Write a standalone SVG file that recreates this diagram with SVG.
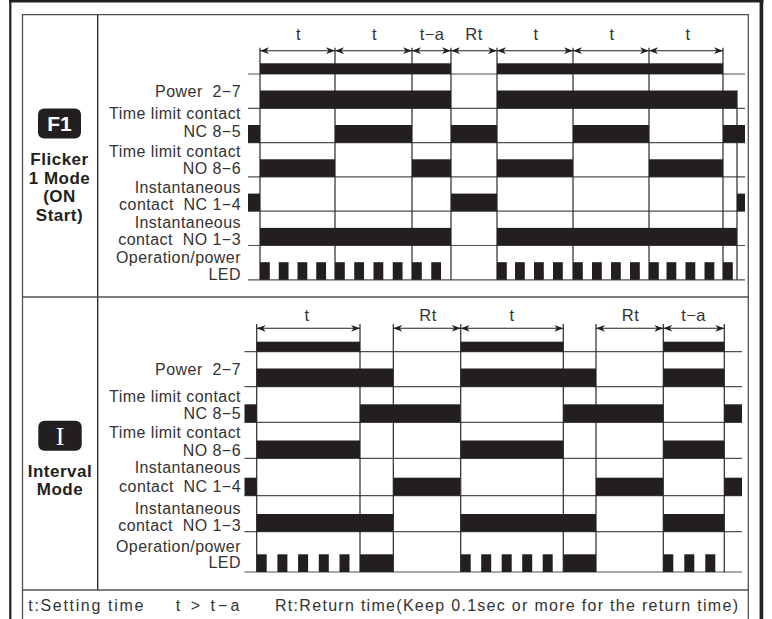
<svg xmlns="http://www.w3.org/2000/svg" width="772" height="619" viewBox="0 0 772 619">
<style>
.lbl{font-family:"Liberation Sans",Arial,sans-serif;font-size:16px;fill:#333;letter-spacing:0.45px;text-anchor:end}
.top{font-family:"Liberation Sans",Arial,sans-serif;font-size:16.5px;fill:#333;text-anchor:middle;letter-spacing:0.4px}
.foot{font-family:"Liberation Sans",Arial,sans-serif;font-size:16px;fill:#333}
.bold{font-family:"Liberation Sans",Arial,sans-serif;font-weight:bold;font-size:17px;fill:#231f20;text-anchor:middle;letter-spacing:0.5px}
.bar{fill:#231f20}
.badge{fill:#231f20}
.base{stroke:#505050;stroke-width:1.2;fill:none}
.tick{stroke:#2a2a2a;stroke-width:1.2;fill:none}
.arr{stroke:#231f20;stroke-width:1.1;fill:none;marker-start:url(#ah);marker-end:url(#ah)}
.frame{stroke:#505050;stroke-width:1.3;fill:none}
.outer{stroke:#231f20;fill:none}
</style>
<defs>
<marker id="ah" viewBox="0 -4 9 8" refX="9" refY="0" markerWidth="9" markerHeight="8" markerUnits="userSpaceOnUse" orient="auto-start-reverse">
<path d="M0,-3.4 L9,0 L0,3.4 L2.6,0 Z" fill="#231f20"/>
</marker>
</defs>
<rect width="772" height="619" fill="#fff"/>

<g id="frame">
<line class="outer" x1="9" y1="1.3" x2="763.5" y2="1.3" stroke-width="2.6"/>
<line class="outer" x1="10.3" y1="0" x2="10.3" y2="619" stroke-width="2.2"/>
<line class="outer" x1="761.4" y1="0" x2="761.4" y2="619" stroke-width="3.6"/>
<path class="frame" d="M22.5,619 V14.7 H748.3 V619"/>
<line class="outer" x1="97.7" y1="14.7" x2="97.7" y2="590" stroke-width="1.3"/>
<line class="frame" x1="22.5" y1="297" x2="748.3" y2="297"/>
<line class="frame" x1="22.5" y1="590" x2="748.3" y2="590"/>
</g>

<g id="f1-mode">
<rect class="badge" x="38" y="108.5" width="43" height="30" rx="6"/>
<text x="59.5" y="131" font-family="Liberation Sans, Arial, sans-serif" font-weight="bold" font-size="21" fill="#fff" text-anchor="middle">F1</text>
<text class="bold" x="59.5" y="165">Flicker</text>
<text class="bold" x="59.5" y="184.3">1 Mode</text>
<text class="bold" x="59.5" y="202">(ON</text>
<text class="bold" x="59.5" y="220.5">Start)</text>
</g>

<g id="f1-labels">
<text class="lbl" x="241" y="96.5">Power&#160; 2−7</text>
<text class="lbl" x="241" y="119">Time limit contact</text>
<text class="lbl" x="241" y="136.7">NC 8−5</text>
<text class="lbl" x="241" y="157">Time limit contact</text>
<text class="lbl" x="241" y="174">NO 8−6</text>
<text class="lbl" x="241" y="193">Instantaneous</text>
<text class="lbl" x="241" y="210">contact&#160; NC 1−4</text>
<text class="lbl" x="241" y="228">Instantaneous</text>
<text class="lbl" x="241" y="245">contact&#160; NO 1−3</text>
<text class="lbl" x="241" y="263">Operation/power</text>
<text class="lbl" x="241" y="280">LED</text>
</g>

<g id="f1-grid">
<line class="base" x1="248" y1="74" x2="745" y2="74"/>
<line class="base" x1="248" y1="108.3" x2="745" y2="108.3"/>
<line class="base" x1="248" y1="142.6" x2="745" y2="142.6"/>
<line class="base" x1="248" y1="176.9" x2="745" y2="176.9"/>
<line class="base" x1="248" y1="211.2" x2="745" y2="211.2"/>
<line class="base" x1="248" y1="245.5" x2="745" y2="245.5"/>
<line class="base" x1="248" y1="279.8" x2="745" y2="279.8"/>
<path class="tick" d="M260,47.7V279.8 M335,47.7V279.8 M412,47.7V279.8 M451,47.7V279.8 M497,47.7V279.8 M573,47.7V279.8 M649,47.7V279.8 M723,47.7V279.8 M737,90.5V279.8"/>
</g>

<g id="f1-bars">
<rect class="bar" x="260" y="63.3" width="191" height="10.7"/>
<rect class="bar" x="497" y="63.3" width="226" height="10.7"/>
<rect class="bar" x="260" y="90.5" width="191" height="17.8"/>
<rect class="bar" x="497" y="90.5" width="240" height="17.8"/>
<rect class="bar" x="248" y="125" width="12" height="17.6"/>
<rect class="bar" x="335" y="125" width="77" height="17.6"/>
<rect class="bar" x="451" y="125" width="46" height="17.6"/>
<rect class="bar" x="573" y="125" width="76" height="17.6"/>
<rect class="bar" x="723" y="125" width="22" height="17.6"/>
<rect class="bar" x="260" y="159.3" width="75" height="17.6"/>
<rect class="bar" x="412" y="159.3" width="39" height="17.6"/>
<rect class="bar" x="497" y="159.3" width="76" height="17.6"/>
<rect class="bar" x="649" y="159.3" width="74" height="17.6"/>
<rect class="bar" x="248" y="193.6" width="12" height="17.6"/>
<rect class="bar" x="451" y="193.6" width="46" height="17.6"/>
<rect class="bar" x="737" y="193.6" width="8" height="17.6"/>
<rect class="bar" x="260" y="227.9" width="191" height="17.6"/>
<rect class="bar" x="497" y="227.9" width="240" height="17.6"/>
<g id="f1-led">
<rect class="bar" x="260" y="262.2" width="9.8" height="17.6"/>
<rect class="bar" x="278.75" y="262.2" width="9.8" height="17.6"/>
<rect class="bar" x="297.5" y="262.2" width="9.8" height="17.6"/>
<rect class="bar" x="316.25" y="262.2" width="9.8" height="17.6"/>
<rect class="bar" x="335" y="262.2" width="9.8" height="17.6"/>
<rect class="bar" x="354.25" y="262.2" width="9.8" height="17.6"/>
<rect class="bar" x="373.5" y="262.2" width="9.8" height="17.6"/>
<rect class="bar" x="392.75" y="262.2" width="9.8" height="17.6"/>
<rect class="bar" x="412" y="262.2" width="9.8" height="17.6"/>
<rect class="bar" x="431.25" y="262.2" width="9.8" height="17.6"/>
<rect class="bar" x="497" y="262.2" width="9.8" height="17.6"/>
<rect class="bar" x="515" y="262.2" width="9.8" height="17.6"/>
<rect class="bar" x="534" y="262.2" width="9.8" height="17.6"/>
<rect class="bar" x="553" y="262.2" width="9.8" height="17.6"/>
<rect class="bar" x="573" y="262.2" width="9.8" height="17.6"/>
<rect class="bar" x="592" y="262.2" width="9.8" height="17.6"/>
<rect class="bar" x="611" y="262.2" width="9.8" height="17.6"/>
<rect class="bar" x="630" y="262.2" width="9.8" height="17.6"/>
<rect class="bar" x="649" y="262.2" width="9.8" height="17.6"/>
<rect class="bar" x="666.5" y="262.2" width="9.8" height="17.6"/>
<rect class="bar" x="685.5" y="262.2" width="9.8" height="17.6"/>
<rect class="bar" x="704.5" y="262.2" width="9.8" height="17.6"/>
<rect class="bar" x="723" y="262.2" width="9.8" height="17.6"/>
</g>
</g>

<g id="f1-connectors">
<line class="arr" x1="260" y1="50.7" x2="335" y2="50.7"/>
<line class="arr" x1="335" y1="50.7" x2="412" y2="50.7"/>
<line class="arr" x1="412" y1="50.7" x2="451" y2="50.7"/>
<line class="arr" x1="451" y1="50.7" x2="497" y2="50.7"/>
<line class="arr" x1="497" y1="50.7" x2="573" y2="50.7"/>
<line class="arr" x1="573" y1="50.7" x2="649" y2="50.7"/>
<line class="arr" x1="649" y1="50.7" x2="723" y2="50.7"/>
</g>
<g id="f1-times">
<text class="top" x="298.5" y="40">t</text>
<text class="top" x="374.5" y="40">t</text>
<text class="top" x="432" y="40">t−a</text>
<text class="top" x="474" y="40">Rt</text>
<text class="top" x="536" y="40">t</text>
<text class="top" x="612" y="40">t</text>
<text class="top" x="688" y="40">t</text>
</g>

<g id="i-mode">
<rect class="badge" x="38.3" y="420.7" width="43.4" height="30" rx="6"/>
<text x="60" y="444.5" font-family="Liberation Serif, Times New Roman, serif" font-size="26" fill="#fff" text-anchor="middle">I</text>
<text class="bold" x="60" y="476.7">Interval</text>
<text class="bold" x="60" y="495">Mode</text>
</g>

<g id="i-labels">
<text class="lbl" x="241" y="375.3">Power&#160; 2−7</text>
<text class="lbl" x="241" y="402">Time limit contact</text>
<text class="lbl" x="241" y="419">NC 8−5</text>
<text class="lbl" x="241" y="438">Time limit contact</text>
<text class="lbl" x="241" y="455.7">NO 8−6</text>
<text class="lbl" x="241" y="473.3">Instantaneous</text>
<text class="lbl" x="241" y="491.7">contact&#160; NC 1−4</text>
<text class="lbl" x="241" y="514">Instantaneous</text>
<text class="lbl" x="241" y="531">contact&#160; NO 1−3</text>
<text class="lbl" x="241" y="551.7">Operation/power</text>
<text class="lbl" x="241" y="568.3">LED</text>
</g>

<g id="i-grid">
<line class="base" x1="244.5" y1="351.7" x2="742" y2="351.7"/>
<line class="base" x1="244.5" y1="386.7" x2="742" y2="386.7"/>
<line class="base" x1="244.5" y1="422.3" x2="742" y2="422.3"/>
<line class="base" x1="244.5" y1="458.3" x2="742" y2="458.3"/>
<line class="base" x1="244.5" y1="495.7" x2="742" y2="495.7"/>
<line class="base" x1="244.5" y1="531.7" x2="742" y2="531.7"/>
<line class="base" x1="244.5" y1="572" x2="742" y2="572"/>
<path class="tick" d="M256.7,324V572 M360,324V572 M393.3,324V572 M460.7,324V572 M563.3,324V572 M596,324V572 M663.3,324V572 M724.3,324V572"/>
</g>

<g id="i-bars">
<rect class="bar" x="256.7" y="341.7" width="103.3" height="10"/>
<rect class="bar" x="460.7" y="341.7" width="102.6" height="10"/>
<rect class="bar" x="663.3" y="341.7" width="61" height="10"/>
<rect class="bar" x="256.7" y="368.5" width="136.6" height="18.2"/>
<rect class="bar" x="460.7" y="368.5" width="135.3" height="18.2"/>
<rect class="bar" x="663.3" y="368.5" width="61" height="18.2"/>
<rect class="bar" x="244.5" y="404.3" width="12.2" height="18"/>
<rect class="bar" x="360" y="404.3" width="100" height="18"/>
<rect class="bar" x="563.3" y="404.3" width="100" height="18"/>
<rect class="bar" x="724.3" y="404.3" width="17.7" height="18"/>
<rect class="bar" x="256.7" y="440.5" width="103.3" height="17.8"/>
<rect class="bar" x="460.7" y="440.5" width="102.6" height="17.8"/>
<rect class="bar" x="663.3" y="440.5" width="61" height="17.8"/>
<rect class="bar" x="244.5" y="477.7" width="12.2" height="18"/>
<rect class="bar" x="393.3" y="477.7" width="66.7" height="18"/>
<rect class="bar" x="596" y="477.7" width="67" height="18"/>
<rect class="bar" x="724.3" y="477.7" width="17.7" height="18"/>
<rect class="bar" x="256.7" y="514" width="136.6" height="17.7"/>
<rect class="bar" x="460.7" y="514" width="135.3" height="17.7"/>
<rect class="bar" x="663.3" y="514" width="61" height="17.7"/>
<g id="i-led">
<rect class="bar" x="256.7" y="554.3" width="10" height="17.7"/>
<rect class="bar" x="277.4" y="554.3" width="10" height="17.7"/>
<rect class="bar" x="298.1" y="554.3" width="10" height="17.7"/>
<rect class="bar" x="318.8" y="554.3" width="10" height="17.7"/>
<rect class="bar" x="339.5" y="554.3" width="10" height="17.7"/>
<rect class="bar" x="360" y="554.3" width="33.3" height="17.7"/>
<rect class="bar" x="460.7" y="554.3" width="10" height="17.7"/>
<rect class="bar" x="481.2" y="554.3" width="10" height="17.7"/>
<rect class="bar" x="501.7" y="554.3" width="10" height="17.7"/>
<rect class="bar" x="522.2" y="554.3" width="10" height="17.7"/>
<rect class="bar" x="542.7" y="554.3" width="10" height="17.7"/>
<rect class="bar" x="563.3" y="554.3" width="32.7" height="17.7"/>
<rect class="bar" x="663.3" y="554.3" width="10" height="17.7"/>
<rect class="bar" x="684.3" y="554.3" width="10" height="17.7"/>
<rect class="bar" x="705.3" y="554.3" width="10" height="17.7"/>
</g>
</g>

<g id="i-connectors">
<line class="arr" x1="256.7" y1="328.3" x2="360" y2="328.3"/>
<line class="arr" x1="393.3" y1="328.3" x2="460.7" y2="328.3"/>
<line class="arr" x1="460.7" y1="328.3" x2="563.3" y2="328.3"/>
<line class="arr" x1="596" y1="328.3" x2="663.3" y2="328.3"/>
<line class="arr" x1="663.3" y1="328.3" x2="724.3" y2="328.3"/>
</g>
<g id="i-times">
<text class="top" x="307" y="320.5">t</text>
<text class="top" x="428" y="320.5">Rt</text>
<text class="top" x="512" y="320.5">t</text>
<text class="top" x="630.5" y="320.5">Rt</text>
<text class="top" x="693.5" y="320.5">t−a</text>
</g>

<g id="footer">
<text class="foot" x="28.3" y="610.5" textLength="115" lengthAdjust="spacing">t:Setting time</text>
<text class="foot" x="175.7" y="610.5" textLength="63.6" lengthAdjust="spacing">t &gt; t−a</text>
<text class="foot" x="275" y="610.5" textLength="463" lengthAdjust="spacing">Rt:Return time(Keep 0.1sec or more for the return time)</text>
</g>
</svg>
